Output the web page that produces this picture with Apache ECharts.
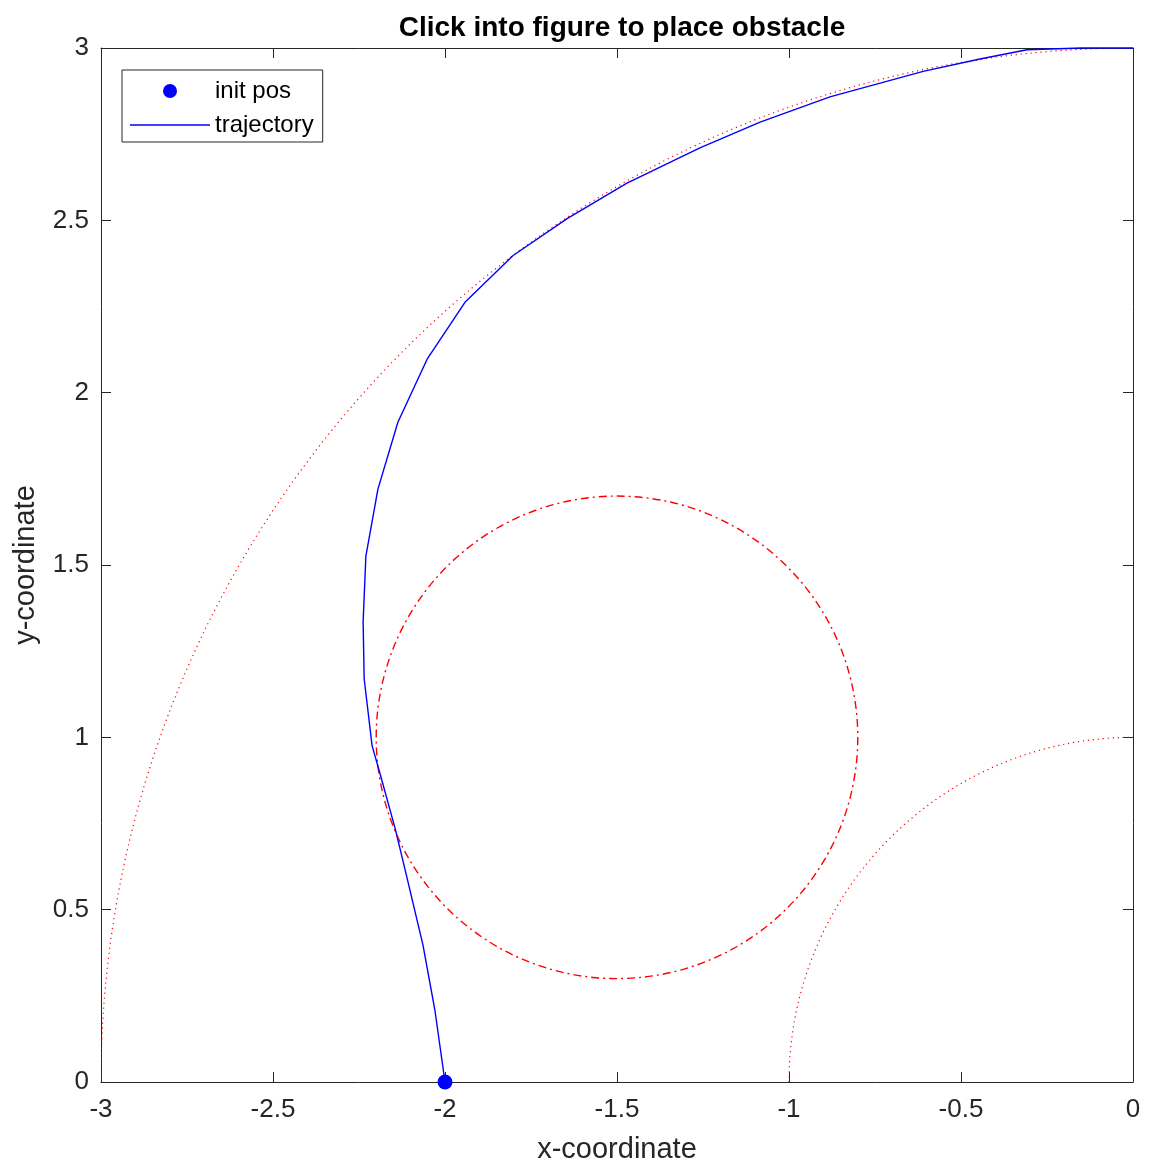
<!DOCTYPE html>
<html>
<head>
<meta charset="utf-8">
<script src="https://cdn.jsdelivr.net/npm/echarts@6/dist/echarts.min.js"></script>
<style>
html,body{margin:0;padding:0;background:#fff;}
#chart{width:1149px;height:1169px;}
</style>
</head>
<body>
<div id="chart"></div>
<script>
// ---- data ----
const xTicks = [-3, -2.5, -2, -1.5, -1, -0.5, 0];
const yTicks = [0, 0.5, 1, 1.5, 2, 2.5, 3];

const initPos = [[-2.0, 0.0]];

const trajX = [-2.000, -2.029, -2.064, -2.110, -2.145, -2.189, -2.212, -2.235, -2.238, -2.230,
               -2.195, -2.137, -2.052, -1.942, -1.802, -1.645, -1.471, -1.259, -1.084, -0.881,
               -0.610, -0.445, -0.308, -0.150, 0.000];
const trajY = [0.000, 0.206, 0.397, 0.591, 0.736, 0.895, 0.976, 1.170, 1.335, 1.526,
               1.720, 1.914, 2.097, 2.262, 2.398, 2.505, 2.608, 2.710, 2.785, 2.858,
               2.932, 2.968, 2.995, 3.000, 3.000];

// circles: centre x, centre y, radius
const boundaryCX = [0, 0];
const boundaryCY = [0, 0];
const boundaryR  = [3, 1];

const obstacleCX = [-1.5];
const obstacleCY = [1.0];
const obstacleR  = [0.7];

// ---- build ----
const trajData = trajX.map((x, i) => [x, trajY[i]]);
const boundaryData = boundaryCX.map((x, i) => [x, boundaryCY[i], boundaryR[i]]);
const obstacleData = obstacleCX.map((x, i) => [x, obstacleCY[i], obstacleR[i]]);

const FONT = 'Liberation Sans, Arial, Helvetica, sans-serif';
const AX = '#262626';

function circleRenderer(dash, width) {
  return function (params, api) {
    const c = api.coord([api.value(0), api.value(1)]);
    const s = api.size([api.value(2), api.value(2)]);
    return {
      type: 'circle',
      shape: { cx: c[0], cy: c[1], r: s[0] },
      scaleY: s[1] / s[0],
      originX: c[0],
      originY: c[1],
      style: { fill: null, stroke: '#ff0000', lineWidth: width, lineDash: dash }
    };
  };
}

const chart = echarts.init(document.getElementById('chart'), null, { renderer: 'canvas' });

const baseAxis = {
  type: 'value',
  interval: 0.5,
  axisLine: { show: true, onZero: false, lineStyle: { color: AX, width: 1 } },
  axisTick: { show: true, inside: true, length: 10, lineStyle: { color: AX, width: 1 } },
  splitLine: { show: false },
  axisLabel: { color: AX, fontFamily: FONT, fontSize: 26 }
};

chart.setOption({
  animation: false,
  backgroundColor: '#ffffff',
  title: {
    text: 'Click into figure to place obstacle',
    left: 617,
    textAlign: 'center',
    top: 9,
    textStyle: { fontFamily: FONT, fontWeight: 'bold', fontSize: 28, color: '#000' }
  },
  grid: { left: 101, top: 48, width: 1032, height: 1036 },
  legend: {
    data: [
      { name: 'init pos', icon: 'circle' },
      { name: 'trajectory', icon: 'path://M0,0H80V1.4H0Z' }
    ],
    orient: 'vertical',
    left: 122,
    top: 70,
    padding: [9, 9, 5, 8],
    itemWidth: 80,
    itemHeight: 14,
    itemGap: 10,
    borderColor: AX,
    borderWidth: 1,
    backgroundColor: '#fff',
    textStyle: { fontFamily: FONT, fontSize: 24, color: '#000' }
  },
  xAxis: [
    Object.assign({}, baseAxis, {
      min: -3, max: 0, position: 'bottom',
      axisLabel: Object.assign({}, baseAxis.axisLabel, { margin: 15 }),
      name: 'x-coordinate', nameLocation: 'middle', nameGap: 53,
      nameTextStyle: { fontFamily: FONT, fontSize: 29, color: AX }
    }),
    Object.assign({}, baseAxis, {
      min: -3, max: 0, position: 'top', axisLabel: { show: false }
    })
  ],
  yAxis: [
    Object.assign({}, baseAxis, {
      min: 0, max: 3, position: 'left',
      axisLabel: Object.assign({}, baseAxis.axisLabel, { margin: 12, padding: [4, 0, 0, 0] }),
      name: 'y-coordinate', nameLocation: 'middle', nameGap: 61,
      nameTextStyle: { fontFamily: FONT, fontSize: 29, color: AX }
    }),
    Object.assign({}, baseAxis, {
      min: 0, max: 3, position: 'right', axisLabel: { show: false }
    })
  ],
  series: [
    {
      name: 'boundary',
      type: 'custom',
      xAxisIndex: 0, yAxisIndex: 0,
      clip: true,
      encode: { x: 0, y: 1 },
      renderItem: circleRenderer([1.2, 3.8], 1.2),
      data: boundaryData,
      z: 2
    },
    {
      name: 'obstacle',
      type: 'custom',
      xAxisIndex: 0, yAxisIndex: 0,
      clip: true,
      encode: { x: 0, y: 1 },
      renderItem: circleRenderer([8, 4, 2, 4], 1.4),
      data: obstacleData,
      z: 2
    },
    {
      name: 'trajectory',
      type: 'line',
      data: trajData,
      showSymbol: false,
      symbol: 'none',
      lineStyle: { color: '#0000ff', width: 1.4 },
      itemStyle: { color: '#0000ff' },
      clip: false,
      z: 3
    },
    {
      name: 'init pos',
      type: 'scatter',
      data: initPos,
      symbol: 'circle',
      symbolSize: 15,
      itemStyle: { color: '#0000ff', opacity: 1 },
      clip: false,
      z: 4
    }
  ]
});
</script>
</body>
</html>
